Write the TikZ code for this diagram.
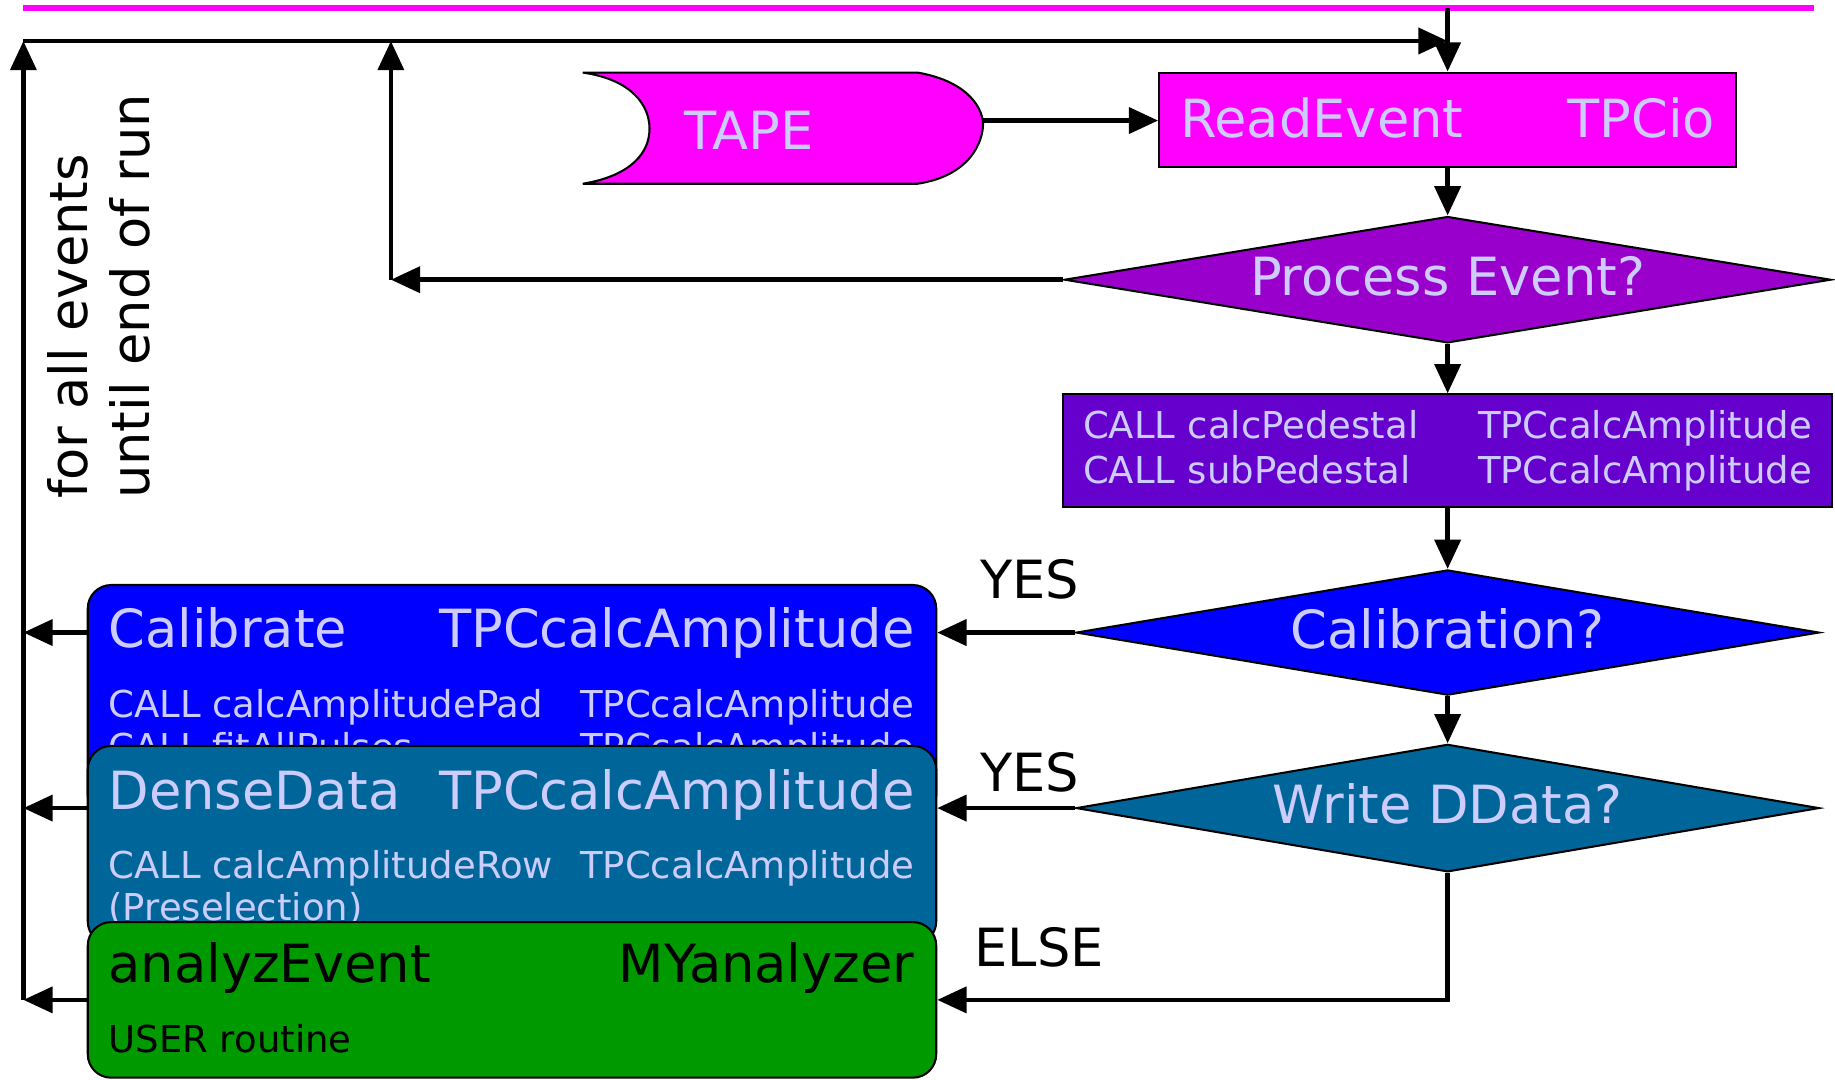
\documentclass[tikz,border=0pt]{standalone}
\usepackage{fontspec}
\setmainfont{DejaVu Sans}
\usepackage{tikz}
\usetikzlibrary{arrows.meta,positioning,calc,shapes.geometric}
\definecolor{Magenta}{HTML}{FF00FF}
\definecolor{Plum}{HTML}{9900CC}
\definecolor{Violet}{HTML}{6600CC}
\definecolor{PureBlue}{HTML}{0000FF}
\definecolor{Petrol}{HTML}{006699}
\definecolor{Leaf}{HTML}{009900}
\definecolor{Lilac}{HTML}{CCCCFF}
\newcommand{\flowbig}{\fontsize{12.8}{15}\selectfont}
\newcommand{\flowmid}{\fontsize{9}{11}\selectfont}

\begin{document}
\begin{tikzpicture}[
  x=0.1mm,y=-0.1mm,
  conn/.style={line width=0.4mm,-{Triangle[length=2.5mm,width=2.2mm]}},
  boxed/.style={rectangle,draw=black,line width=0.5pt,text=Lilac,font=\flowbig,inner xsep=1.8mm,inner ysep=0pt,align=left},
  query/.style={diamond,draw=black,line width=0.5pt,text=Lilac,font=\flowbig,aspect=6,inner sep=0pt,text depth=0.7mm},
  panel/.style={rectangle,rounded corners=2mm,draw=black,line width=0.5pt,minimum width=72.5mm,anchor=north},
  headtxt/.style={font=\flowbig,inner sep=0pt},
  subtxt/.style={font=\flowmid,inner sep=0pt}
]
\useasboundingbox (0,0) rectangle (1568,922);
\draw[Magenta,line width=0.5mm] (20,7) -- (1550,7);
\coordinate (feed) at (1237,7);
\coordinate (rail) at (20,35);
\coordinate (skip) at (334,35);

% tape and main chain
\draw[fill=Magenta,line width=0.5pt] (498,62) -- (784,62)
  .. controls (830,70) and (840,95) .. (840,106)
  .. controls (840,120) and (830,150) .. (784,157) -- (498,157)
  .. controls (540,150) and (555,130) .. (555,110)
  .. controls (555,90) and (540,68) .. (498,62) -- cycle;
\node[headtxt,text=Lilac,anchor=base] (tape) at (640,128) {TAPE};
\coordinate (tapeE) at (840,103);
\node[boxed,fill=Magenta,text width=45.7mm,minimum height=8.1mm,text depth=0.5mm] (readev) at (1237,102.5) {ReadEvent\hfill TPCio};
\node[query,fill=Plum,minimum width=65.5mm,minimum height=10.8mm] (procq) at (1237,239) {Process Event?};
\node[boxed,fill=Violet,font=\flowmid,text width=62.3mm,inner xsep=1.7mm,minimum height=9.6mm] (calls) at (1237,385)
  {CALL calcPedestal\hfill TPCcalcAmplitude\\CALL subPedestal\hfill TPCcalcAmplitude};
\node[query,fill=PureBlue,minimum width=63.5mm,minimum height=10.7mm] (calq) at (1237,540.5) {Calibration?};
\node[query,fill=Petrol,minimum width=63.5mm,minimum height=10.9mm] (ddq) at (1237,690.5) {Write DData?};

% stacked panels
\node[panel,fill=PureBlue,minimum height=20mm] (calbox) at (437.5,499) {};
\node[headtxt,text=Lilac,anchor=base west] (calT) at (92,553.5) {Calibrate};
\node[headtxt,text=Lilac,anchor=base east] (calM) at (782,553.5) {TPCcalcAmplitude};
\foreach \y/\call/\nm in {613.5/calcAmplitudePad/a,649.5/fitAllPulses/b}{
  \node[subtxt,text=Lilac,anchor=base west] (cal\nm) at (92,\y) {CALL \call};
  \node[subtxt,text=Lilac,anchor=base east] (cal\nm m) at (782,\y) {TPCcalcAmplitude};
}
\node[panel,fill=Petrol,minimum height=17mm] (densebox) at (437.5,636.5) {};
\node[headtxt,text=Lilac,anchor=base west] (denT) at (92,691.5) {DenseData};
\node[headtxt,text=Lilac,anchor=base east] (denM) at (782,691.5) {TPCcalcAmplitude};
\node[subtxt,text=Lilac,anchor=base west] (dena) at (92,750.5) {CALL calcAmplitudeRow};
\node[subtxt,text=Lilac,anchor=base east] (denam) at (782,750.5) {TPCcalcAmplitude};
\node[subtxt,text=Lilac,anchor=base west] (denb) at (92,786.5) {(Preselection)};
\node[panel,fill=Leaf,minimum height=13.3mm] (anabox) at (437.5,787) {};
\node[headtxt,anchor=base west] (anaT) at (92,839.5) {analyzEvent};
\node[headtxt,anchor=base east] (anaM) at (782,839.5) {MYanalyzer};
\node[subtxt,anchor=base west] (anaa) at (92,899.5) {USER routine};

% branch labels
\node[headtxt,anchor=base] (yesA) at (880,511) {YES};
\node[headtxt,anchor=base] (yesB) at (880,676) {YES};
\node[headtxt,anchor=base] (elseL) at (888,826) {ELSE};
\node[headtxt,rotate=90,anchor=south west,align=left] (note) at (129,427) {for all events\\until end of run};

% connectors
\draw[conn] (feed) -- (readev.north);
\draw[conn] (tapeE) -- (tapeE -| readev.west);
\draw[conn] (readev.south) -- (procq.north);
\draw[conn] (procq.south) -- (calls.north);
\draw[conn] (calls.south) -- (calq.north);
\draw[conn] (calq.south) -- (ddq.north);
\draw[conn] (calq.west) -- (calq.west -| calbox.east);
\draw[conn] (ddq.west) -- (ddq.west -| densebox.east);
\draw[conn] (ddq.south) |- (anabox.east);
\coordinate (skipB) at (procq.west -| skip);
\draw[conn] (procq.west) -- (skipB);
\draw[conn] (skipB) -- (skip);
\draw[conn] (anabox.west -| rail) -- (rail);
\draw[conn] (rail) -- (rail -| feed);
\foreach \pnl/\lvl in {calbox/calq,densebox/ddq,anabox/anabox}{
  \draw[conn] (\lvl.west -| \pnl.west) -- (\lvl.west -| rail);
}
\end{tikzpicture}
\end{document}
